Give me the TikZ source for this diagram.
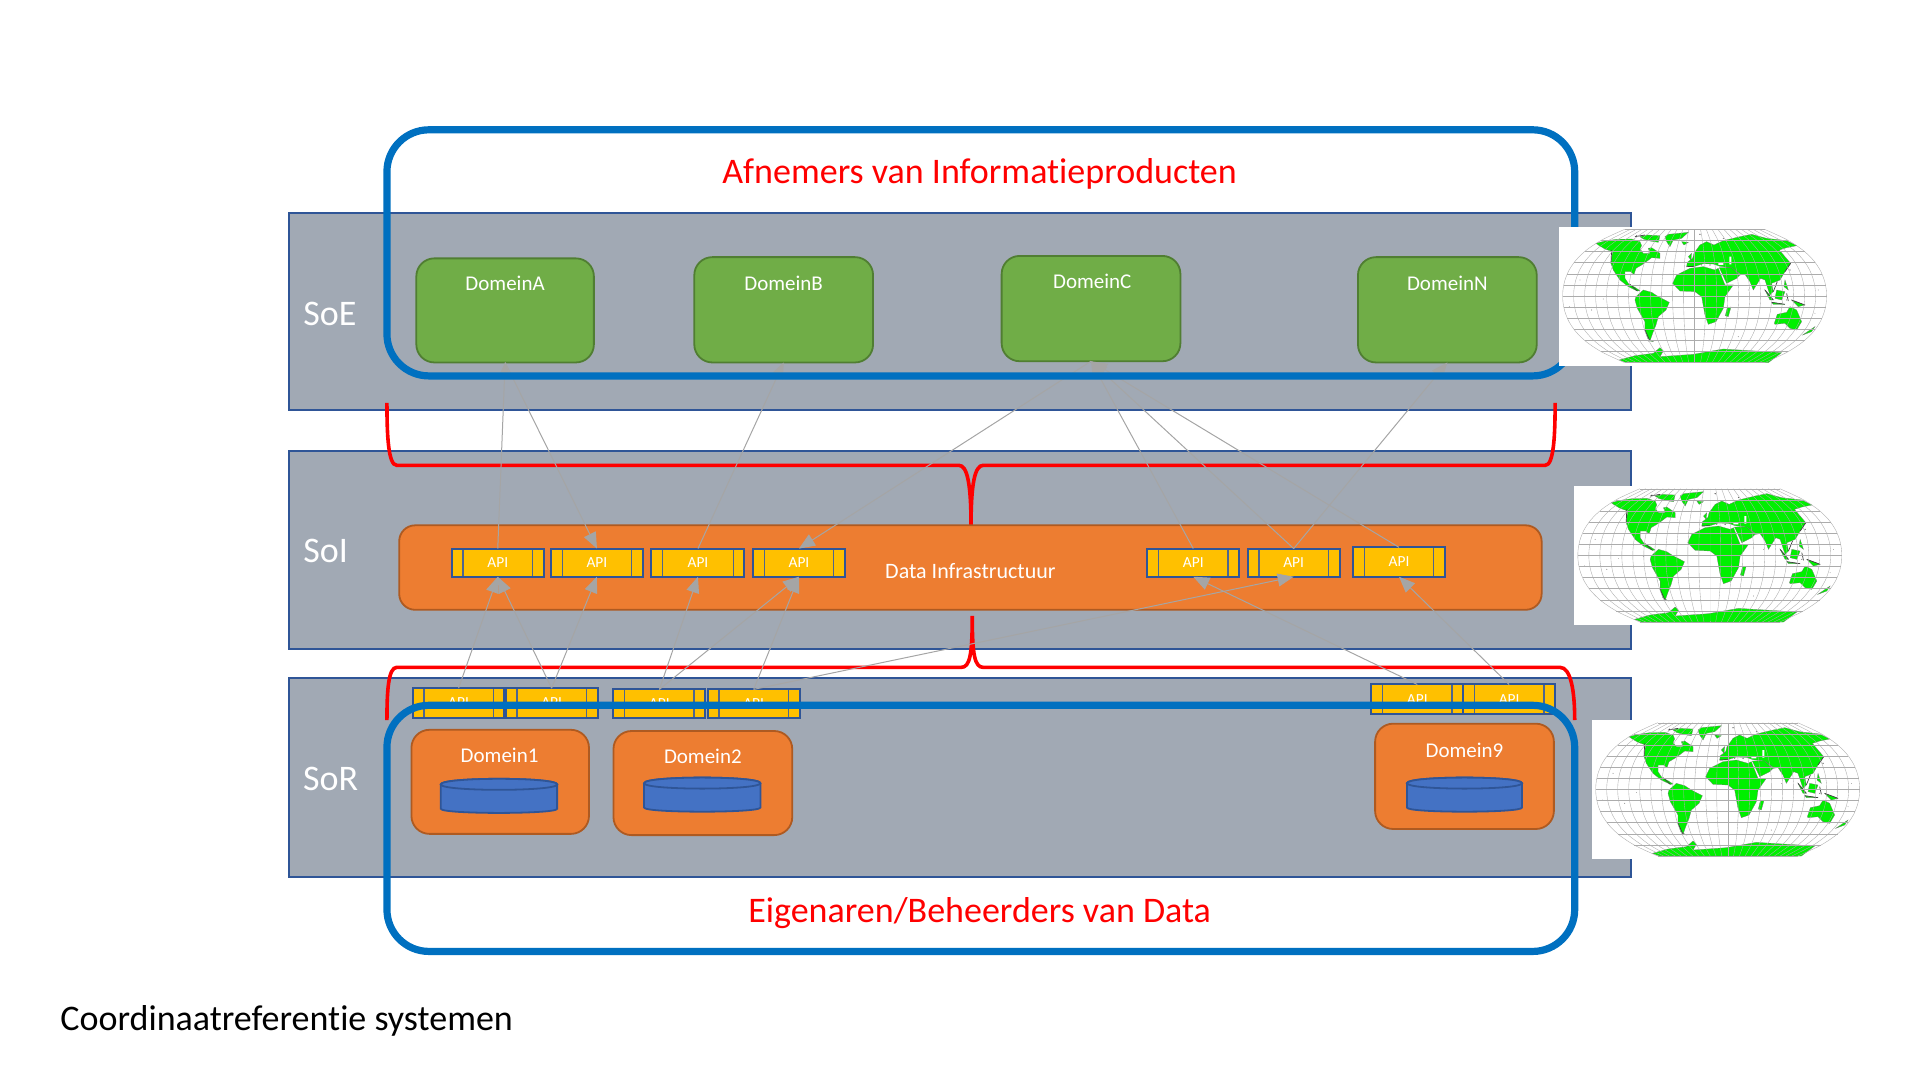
\documentclass[tikz,border=0pt]{standalone}
\usepackage{fontspec}
\setmainfont[Ligatures=NoCommon]{Carlito}
\usetikzlibrary{arrows.meta}
\definecolor{bandfill}{RGB}{161,169,180}
\definecolor{bandline}{RGB}{47,85,151}
\definecolor{blueframe}{RGB}{0,112,192}
\definecolor{orangefill}{RGB}{237,125,49}
\definecolor{orangeline}{RGB}{174,90,33}
\definecolor{greenfill}{RGB}{112,173,71}
\definecolor{greenline}{RGB}{80,126,50}
\definecolor{apifill}{RGB}{255,192,0}
\definecolor{cylfill}{RGB}{68,114,196}
\definecolor{conncol}{RGB}{165,165,165}
\definecolor{mapgreen}{RGB}{0,240,0}
\def\u{0.6122pt}
\tikzset{
  band/.style={draw=bandline,fill=bandfill,line width=1.1pt,outer sep=0pt,inner sep=0pt},
  frameblue/.style={draw=blueframe,line width=3.6pt,rounded corners=21pt,outer sep=0pt,inner sep=0pt},
  infra/.style={draw=orangeline,fill=orangefill,line width=.9pt,rounded corners=8pt,outer sep=0pt,inner sep=0pt},
  dompanel/.style={draw=greenline,fill=greenfill,line width=.9pt,rounded corners=9pt,outer sep=0pt,inner sep=0pt},
  sorpanel/.style={draw=orangeline,fill=orangefill,line width=.9pt,rounded corners=9pt,outer sep=0pt,inner sep=0pt},
  apibox/.style={draw=bandline,fill=apifill,line width=1pt,outer sep=0pt,inner sep=0pt,text=white,
    font=\fontsize{7.7}{9}\selectfont,
    path picture={
      \draw[line width=.7pt,color=bandline!60!gray]
        ([xshift=5.6pt]path picture bounding box.north west) -- ([xshift=5.6pt]path picture bounding box.south west)
        ([xshift=-5.6pt]path picture bounding box.north east) -- ([xshift=-5.6pt]path picture bounding box.south east);}},
  whitelabel/.style={text=white,inner sep=0pt,font=\fontsize{10.5}{12}\selectfont},
  infralabel/.style={text=white,inner sep=0pt,font=\fontsize{11}{13}\selectfont},
  layerlabel/.style={text=white,inner sep=0pt,font=\fontsize{18}{20}\selectfont},
  redlabel/.style={text=red,inner sep=0pt,font=\fontsize{18}{20}\selectfont},
  conn/.style={draw=conncol,line width=.5pt,-{Triangle[length=8pt,width=6.5pt,color=conncol]}},
  redline/.style={draw=red,line width=1.8pt},
  cyl/.style={draw=bandline,fill=cylfill,line width=.9pt},
  coast/.style={fill=mapgreen,draw=black!55,line width=.12pt},
}
\newcommand\apitxt{\raisebox{-1pt}{API}}
\newcommand\boxnode[6][]{\node[#2,minimum width=(#5-#3)*\u,minimum height=(#6-#4)*\u] (#1) at ({(#3+#5)/2},{(#4+#6)/2})}
\newcommand\cylinderat[4]{% x1 x2 ytop ybot
  \path[cyl] (#1,#3+4.6) -- (#1,#4-3.5) .. controls (#1,#4+1) and (#2,#4+1) .. (#2,#4-3.5) -- (#2,#3+4.6)
     .. controls (#2,#3-1.5) and (#1,#3-1.5) .. (#1,#3+4.6) -- cycle;
  \path[cyl] (#1,#3+4.6) .. controls (#1,#3+10.5) and (#2,#3+10.5) .. (#2,#3+4.6)
     .. controls (#2,#3-1.5) and (#1,#3-1.5) .. (#1,#3+4.6) -- cycle;}
\newcommand\worldmap[2]{%
 \begin{scope}[shift={(#1,#2)},x=0.16664pt,y=-0.16664pt]
  \fill[white] (27,50) rectangle (840,467);
  \begin{scope}[shift={(30,45)}]
   \path[coast]
    (108,55)--(135,48)--(170,43)--(215,42)--(240,50)--(245,62)--(240,72)--(250,85)--(270,85)--(265,70)--(275,68)--(300,85)--(300,100)--(275,98)--(262,108)--(245,120)--(228,130)--(222,148)--(212,140)--(195,140)--(195,160)--(207,178)--(225,187)--(240,197)--(232,198)--(205,185)--(180,165)--(160,135)--(153,115)--(158,80)--(135,72)--(118,62)--cycle
    (315,35)--(325,28)--(385,22)--(365,40)--(340,45)--(330,65)--(320,50)--cycle
    (240,35)--(262,30)--(300,32)--(295,52)--(270,48)--(250,42)--cycle
    (228,215)--(250,195)--(275,202)--(295,215)--(328,232)--(318,255)--(295,275)--(288,300)--(278,325)--(270,348)--(280,350)--(263,340)--(255,315)--(255,290)--(232,250)--(225,225)--cycle
    (178,405)--(225,392)--(280,385)--(300,368)--(310,378)--(300,395)--(400,388)--(490,372)--(665,383)--(625,413)--(200,413)--cycle
    (365,50)--(385,52)--(372,60)--cycle;
   \fill[black!70] (205,215) circle (2) (60,165) circle (1.3) (95,255) circle (1.3) (130,222) circle (1) (28,245) circle (1) (265,348) circle (1.5) (230,33) circle (2.5) (275,36) circle (2);
   \draw[black!75,line width=.35pt] (155,75)--(153,115) (255,315)--(270,348) (225,35)--(255,30) (210,178)--(232,198);
  \end{scope}
  \begin{scope}[shift={(420,45)}]
   \path[coast]
    (0,130)--(40,125)--(75,135)--(85,130)--(105,180)--(130,180)--(105,215)--(100,250)--(78,290)--(55,298)--(45,270)--(35,215)--(15,200)--(-30,198)--(-52,175)--(-40,150)--cycle
    (-10,125)--(-8,112)--(8,100)--(12,85)--(30,60)--(50,50)--(72,60)--(100,47)--(150,35)--(185,28)--(230,40)--(290,47)--(320,62)--(290,68)--(268,75)--(285,95)--(302,115)--(285,140)--(270,165)--(258,170)--(245,175)--(250,200)--(240,210)--(225,165)--(212,160)--(190,195)--(180,170)--(165,148)--(150,150)--(125,128)--(90,124)--(70,117)--(40,116)--(15,124)--cycle
    (88,128)--(110,175)--(140,160)--(152,148)--(125,128)--cycle
    (112,248)--(123,246)--(115,275)--(106,272)--cycle
    (253,295)--(262,268)--(290,262)--(300,245)--(320,255)--(335,290)--(320,315)--(300,310)--(285,295)--(255,298)--cycle
    (338,330)--(375,305)--(365,320)--cycle
    (225,195)--(250,225)--(240,225)--cycle
    (260,195)--(285,200)--(275,225)--(255,220)--cycle
    (245,232)--(285,238)--(250,238)--cycle
    (305,225)--(345,240)--(325,245)--cycle
    (285,165)--(295,195)--(282,185)--cycle
    (-5,95)--(5,85)--(3,105)--cycle;
   \fill[white] (85,113)--(100,113)--(100,120)--(85,120)--cycle (118,95)--(124,95)--(124,118)--(118,118)--cycle;
   \fill[black!70] (60,120) circle (2) (35,120) circle (1.5) (290,225) circle (1.5) (300,135) circle (2) (175,195) circle (1) (385,195) circle (1) (375,265) circle (1) (145,335) circle (1.2) (30,28) circle (2) (100,40) circle (1.5);
   \draw[black!75,line width=.35pt] (285,140)--(302,115) (262,170)--(250,200) (225,195)--(250,225) (290,205)--(295,228) (305,225)--(345,240) (245,232)--(285,238) (-10,125)--(15,124);
  \end{scope}
  \foreach \i in {-12,...,12}{
    \draw[gray!65,line width=.18pt] plot[smooth,domain=-1:1,samples=14] ({434+\i/12*396*(1-0.3*\x*\x-0.17*\x*\x*\x*\x)},{258+200*\x});
  }
  \foreach \i in {-6,...,6}{
    \pgfmathsetmacro\wv{396*(1-0.3*\i*\i/36-0.17*\i*\i*\i*\i/1296)}
    \draw[gray!65,line width=.18pt] ({434-\wv},{258+\i/6*200}) -- ({434+\wv},{258+\i/6*200});
  }
 \end{scope}}
\begin{document}
\begin{tikzpicture}[x=0.6122pt,y=-0.6122pt]
\useasboundingbox (0,0) rectangle (1568,882);
% bands
\boxnode[soe]{band}{236}{174}{1332}{335}{};
\boxnode[soi]{band}{236}{368}{1332}{530}{};
\boxnode[sor]{band}{236}{554}{1332}{716}{};
% red braces
\draw[redline] (316,329) .. controls (316,355) and (317,380) .. (324,380) -- (783,380) .. controls (790,380) and (793,395) .. (793,430) .. controls (793,395) and (796,380) .. (803,380) -- (1262,380) .. controls (1269,380) and (1270,355) .. (1270,329);
\draw[redline] (316,588) .. controls (316,565) and (317,545) .. (324,545) -- (785,545) .. controls (792,545) and (794,535) .. (794,503) .. controls (794,535) and (796,545) .. (803,545) -- (1274,545) .. controls (1283,545) and (1286,565) .. (1286,588);
% panels
\boxnode[dA]{dompanel}{340}{211}{485}{296}{};
\boxnode[dB]{dompanel}{567}{210}{713}{296}{};
\boxnode[dC]{dompanel}{818}{209}{964}{295}{};
\boxnode[dN]{dompanel}{1109}{210}{1255}{296}{};
\boxnode[di]{infra}{326}{429}{1259}{498}{};
\boxnode[d1]{sorpanel}{336}{596}{481}{681}{};
\boxnode[d2]{sorpanel}{501}{597}{647}{682}{};
\boxnode[d9]{sorpanel}{1123}{591}{1269}{677}{};
% API boxes
\boxnode[a1]{apibox}{369}{448}{444}{471}{\apitxt};
\boxnode[a2]{apibox}{450}{448}{525}{471}{\apitxt};
\boxnode[a3]{apibox}{532}{448}{608}{471}{\apitxt};
\boxnode[a4]{apibox}{615}{448}{690}{471}{\apitxt};
\boxnode[a5]{apibox}{937}{448}{1012}{471}{\apitxt};
\boxnode[a6]{apibox}{1019}{448}{1094}{471}{\apitxt};
\boxnode[a7]{apibox}{1105}{447}{1180}{471}{\apitxt};
\boxnode[r1]{apibox}{337}{562}{412}{586}{API};
\boxnode[r2]{apibox}{413}{562}{488}{586}{API};
\boxnode[r3]{apibox}{501}{563}{576}{586}{API};
\boxnode[r4]{apibox}{578}{563}{653}{586}{API};
\boxnode[r5]{apibox}{1120}{559}{1195}{583}{API};
\boxnode[r6]{apibox}{1195}{559}{1270}{583}{API};
% cylinders
\cylinderat{360}{455}{636}{664}
\cylinderat{526}{621}{635}{663}
\cylinderat{1149}{1243}{635}{663}
% connectors
\draw[conn] (a1.north) -- (dA.south);
\draw[conn] (dA.south) -- (a2.north);
\draw[conn] (a3.north) -- (dB.south);
\draw[conn] (dC.south) -- (a4.north);
\draw[conn] (a5.north) -- (dC.south);
\draw[conn] (a6.north) -- (dC.south);
\draw[conn] (a7.north) -- (dC.south);
\draw[conn] (a6.north) -- (dN.south);
\draw[conn] (r1.north) -- (a1.south);
\draw[conn] (r2.north) -- (a1.south);
\draw[conn] (r2.north) -- (a2.south);
\draw[conn] (r3.north) -- (a3.south);
\draw[conn] (r3.north) -- (a4.south);
\draw[conn] (r4.north) -- (a4.south);
\draw[conn] (r4.north) -- (a6.south);
\draw[conn] (r5.north) -- (a5.south);
\draw[conn] (r6.north) -- (a7.south);
% blue frames
\boxnode[ftop]{frameblue}{316}{106}{1286}{307}{};
\boxnode[fbot]{frameblue}{316}{576}{1286}{777}{};
% maps
\worldmap{1265.8}{171.5}
\worldmap{1278.2}{383.3}
\worldmap{1292.8}{574.4}
% labels
\node[layerlabel] (lsoe) at (269.5,256) {SoE};
\node[layerlabel] (lsoi) at (266,450) {SoI};
\node[layerlabel] (lsor) at (270,636) {SoR};
\node[whitelabel] (ta) at (412.5,231) {DomeinA};
\node[whitelabel] (tb) at (640,231) {DomeinB};
\node[whitelabel] (tc) at (892,230) {DomeinC};
\node[whitelabel] (tn) at (1182,231) {DomeinN};
\node[infralabel] (tdi) at (792.5,466.5) {Data Infrastructuur};
\node[whitelabel] (t1) at (408,617) {Domein1};
\node[whitelabel] (t2) at (574,618) {Domein2};
\node[whitelabel] (t9) at (1196,613) {Domein9};
\node[redlabel] (tafn) at (800,142) {Afnemers van Informatieproducten};
\node[redlabel] (teig) at (800,746) {Eigenaren/Beheerders van Data};
\node[inner sep=0pt,anchor=west,font=\fontsize{18}{20}\selectfont] (tco) at (49,834) {Coordinaatreferentie systemen};
\end{tikzpicture}
\end{document}
